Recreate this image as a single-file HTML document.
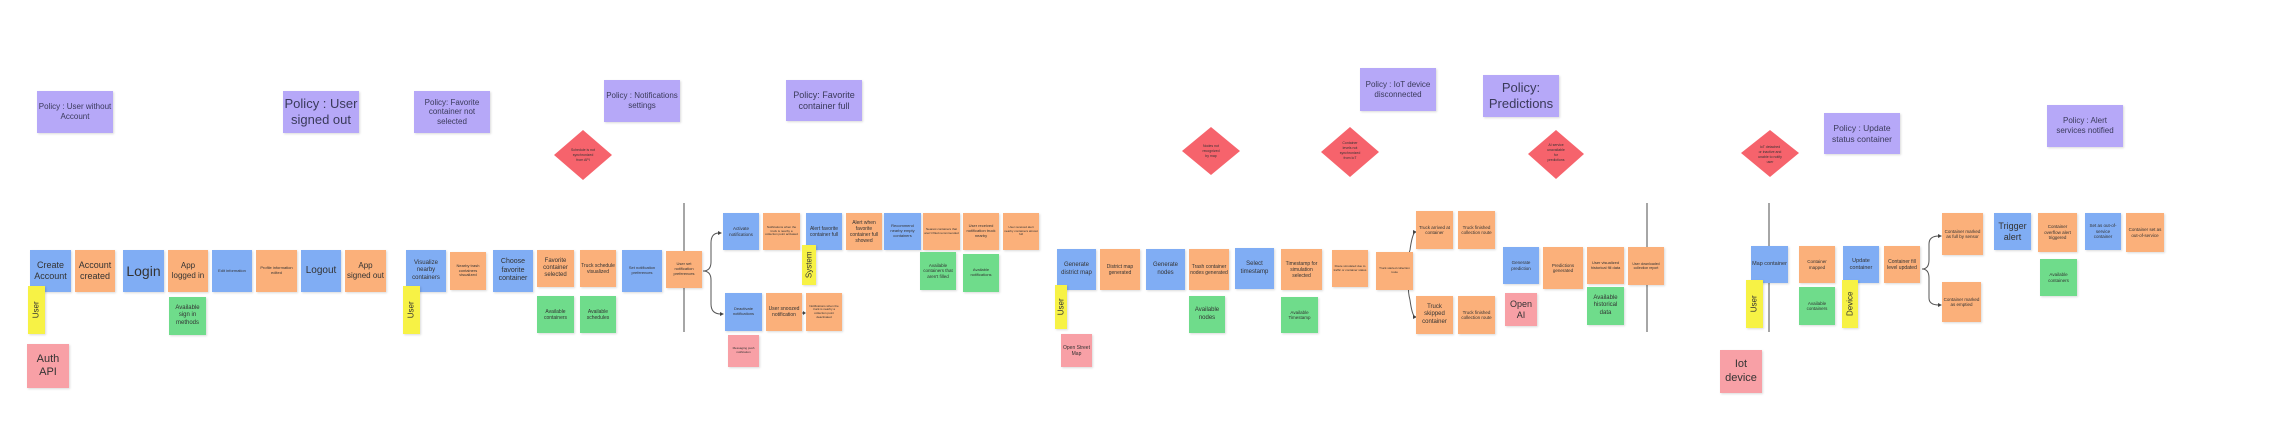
<!DOCTYPE html>
<html><head><meta charset="utf-8"><style>
body{margin:0;width:2291px;height:436px;background:#fff;position:relative;overflow:hidden;font-family:"Liberation Sans",sans-serif}
.n{position:absolute;display:flex;align-items:center;justify-content:center;text-align:center;color:#333;line-height:1.2;box-shadow:1px 1px 2px rgba(0,0,0,.15);box-sizing:border-box;padding:1px;overflow:hidden}
.b{background:#80adf4}.o{background:#fbb07a}.g{background:#6fdc8b}.y{background:#f7f245}.p{background:#b6a8f8;color:#3a3a5a}.r{background:#f8a0a6}
.v span{transform:rotate(-90deg);white-space:nowrap;display:block}
svg{position:absolute;left:0;top:0}
</style></head><body>
<svg width="2291" height="436">
<g fill="#f6636c">
<polygon points="583,130 612,155 583,180 554,155"/>
<polygon points="1211,127 1240,151 1211,175 1182,151"/>
<polygon points="1350,127 1379,152 1350,177 1321,152"/>
<polygon points="1556,130 1584,154 1556,179 1528,154"/>
<polygon points="1770,130 1799,153 1770,177 1741,153"/>
</g>
<g fill="#333" font-size="3.5" text-anchor="middle" font-family="Liberation Sans">
<text x="583" y="151">Schedule is not</text><text x="583" y="156">synchronized</text><text x="583" y="161">from API</text>
<text x="1211" y="147">Nodes not</text><text x="1211" y="152">recognized</text><text x="1211" y="157">by map</text>
<text x="1350" y="144">Container</text><text x="1350" y="149">levels not</text><text x="1350" y="154">synchronized</text><text x="1350" y="159">from IoT</text>
<text x="1556" y="146">AI service</text><text x="1556" y="151">unavailable</text><text x="1556" y="156">for</text><text x="1556" y="161">predictions</text>
<text x="1770" y="148">IoT detached</text><text x="1770" y="153">or inactive and</text><text x="1770" y="158">unable to notify</text><text x="1770" y="163">user</text>
</g>
<g stroke="#777" stroke-width="1.3">
<line x1="684" y1="203" x2="684" y2="332"/><line x1="1647" y1="203" x2="1647" y2="332"/><line x1="1769" y1="203" x2="1769" y2="332"/>
</g>
<g stroke="#555" fill="none" stroke-width="1">
<path d="M703,271 Q711,271 711,262 L711,243 Q711,233 719,233"/><path d="M703,271 Q711,271 711,280 L711,304 Q711,314 721,314"/>
<path d="M1412,272 Q1406,262 1410,250 Q1412,235 1415,232"/><path d="M1412,272 Q1406,285 1410,300 Q1412,315 1415,317"/>
<path d="M1922,269 Q1929,269 1929,260 L1929,244 Q1929,236 1939,236"/><path d="M1922,269 Q1929,269 1929,278 L1929,298 Q1929,305 1939,305"/>
<line x1="802" y1="313" x2="805" y2="313"/>
</g>
<g fill="#444">
<polygon points="722,233 718,231 718,235"/><polygon points="724,314 720,312 720,316"/>
<polygon points="1417,232 1413,230 1413,234"/><polygon points="1417,317 1413,315 1413,319"/>
<polygon points="1942,236 1938,234 1938,238"/><polygon points="1942,305 1938,303 1938,307"/>
<polygon points="806,313 803,311 803,315"/>
</g>
</svg>

<div class="n p" style="left:37px;top:91px;width:76px;height:42px;font-size:8px">Policy : User without Account</div>
<div class="n p" style="left:283px;top:91px;width:76px;height:42px;font-size:13px">Policy : User signed out</div>
<div class="n p" style="left:414px;top:91px;width:76px;height:42px;font-size:8px">Policy: Favorite container not selected</div>
<div class="n p" style="left:604px;top:80px;width:76px;height:42px;font-size:8px">Policy : Notifications settings</div>
<div class="n p" style="left:786px;top:80px;width:76px;height:41px;font-size:9px">Policy: Favorite container full</div>
<div class="n p" style="left:1360px;top:68px;width:76px;height:43px;font-size:8px">Policy : IoT device disconnected</div>
<div class="n p" style="left:1483px;top:75px;width:76px;height:42px;font-size:13px">Policy: Predictions</div>
<div class="n p" style="left:1824px;top:113px;width:76px;height:41px;font-size:8.5px">Policy : Update status container</div>
<div class="n p" style="left:2047px;top:105px;width:76px;height:42px;font-size:8px">Policy : Alert services notified</div>

<div class="n b" style="left:30px;top:250px;width:41px;height:42px;font-size:9px">Create Account</div>
<div class="n o" style="left:75px;top:250px;width:40px;height:42px;font-size:9px">Account created</div>
<div class="n b" style="left:123px;top:250px;width:41px;height:42px;font-size:14px">Login</div>
<div class="n o" style="left:168px;top:250px;width:40px;height:42px;font-size:8px">App logged in</div>
<div class="n b" style="left:212px;top:250px;width:40px;height:42px;font-size:4px">Edit information</div>
<div class="n o" style="left:256px;top:250px;width:41px;height:42px;font-size:4px">Profile information edited</div>
<div class="n b" style="left:301px;top:250px;width:40px;height:42px;font-size:10px">Logout</div>
<div class="n o" style="left:345px;top:250px;width:41px;height:42px;font-size:8px">App signed out</div>
<div class="n y v" style="left:28px;top:286px;width:17px;height:48px;font-size:8px"><span>User</span></div>
<div class="n g" style="left:169px;top:297px;width:37px;height:38px;font-size:6px">Available sign in methods</div>
<div class="n r" style="left:27px;top:344px;width:42px;height:44px;font-size:11px">Auth API</div>

<div class="n b" style="left:406px;top:250px;width:40px;height:42px;font-size:6px">Visualize nearby containers</div>
<div class="n y v" style="left:403px;top:286px;width:17px;height:48px;font-size:8px"><span>User</span></div>
<div class="n o" style="left:450px;top:252px;width:36px;height:38px;font-size:4px">Nearby trash containers visualized</div>
<div class="n b" style="left:493px;top:250px;width:40px;height:42px;font-size:7px">Choose favorite container</div>
<div class="n o" style="left:537px;top:250px;width:37px;height:37px;font-size:6px">Favorite container selected</div>
<div class="n o" style="left:580px;top:250px;width:36px;height:37px;font-size:5px">Truck schedule visualized</div>
<div class="n b" style="left:622px;top:250px;width:40px;height:42px;font-size:4px">Set notification preferences</div>
<div class="n o" style="left:666px;top:251px;width:36px;height:37px;font-size:4px">User set notification preferences</div>
<div class="n g" style="left:537px;top:296px;width:37px;height:37px;font-size:5px">Available containers</div>
<div class="n g" style="left:580px;top:296px;width:36px;height:37px;font-size:5px">Available schedules</div>

<div class="n b" style="left:723px;top:213px;width:36px;height:37px;font-size:4.5px">Activate notifications</div>
<div class="n o" style="left:763px;top:213px;width:37px;height:37px;font-size:3px">Notifications when the truck is nearby a collection point activated</div>
<div class="n b" style="left:806px;top:213px;width:36px;height:37px;font-size:5px">Alert favorite container full</div>
<div class="n y v" style="left:802px;top:245px;width:14px;height:40px;font-size:8px"><span>System</span></div>
<div class="n b" style="left:725px;top:293px;width:37px;height:38px;font-size:4px">Deactivate notifications</div>
<div class="n o" style="left:766px;top:293px;width:36px;height:38px;font-size:5px">User snoozed notification</div>
<div class="n o" style="left:806px;top:293px;width:36px;height:38px;font-size:3px">Notifications when the truck is nearby a collection point deactivated</div>
<div class="n r" style="left:728px;top:335px;width:31px;height:32px;font-size:3px">Messaging push notification</div>

<div class="n o" style="left:846px;top:213px;width:36px;height:37px;font-size:5px">Alert when favorite container full showed</div>
<div class="n b" style="left:884px;top:213px;width:37px;height:37px;font-size:4px">Recommend nearby empty containers</div>
<div class="n o" style="left:923px;top:213px;width:37px;height:37px;font-size:3px">Nearest containers that aren't filled recommended</div>
<div class="n o" style="left:963px;top:213px;width:36px;height:37px;font-size:4px">User received notification truck nearby</div>
<div class="n o" style="left:1003px;top:213px;width:36px;height:37px;font-size:3px">User received alert nearby containers almost full</div>
<div class="n g" style="left:920px;top:252px;width:36px;height:38px;font-size:4.5px">Available containers that aren't filled</div>
<div class="n g" style="left:963px;top:254px;width:36px;height:38px;font-size:4px">Available notifications</div>

<div class="n b" style="left:1057px;top:249px;width:39px;height:41px;font-size:6px">Generate district map</div>
<div class="n y v" style="left:1055px;top:285px;width:12px;height:44px;font-size:8px"><span>User</span></div>
<div class="n r" style="left:1061px;top:334px;width:31px;height:33px;font-size:5px">Open Street Map</div>
<div class="n o" style="left:1100px;top:249px;width:40px;height:41px;font-size:5px">District map generated</div>
<div class="n b" style="left:1146px;top:249px;width:39px;height:41px;font-size:6px">Generate nodes</div>
<div class="n o" style="left:1189px;top:249px;width:40px;height:41px;font-size:5px">Trash container nodes generated</div>
<div class="n g" style="left:1189px;top:296px;width:36px;height:37px;font-size:6px">Available nodes</div>
<div class="n b" style="left:1235px;top:248px;width:39px;height:41px;font-size:6px">Select timestamp</div>
<div class="n o" style="left:1281px;top:249px;width:41px;height:41px;font-size:5px">Timestamp for simulation selected</div>
<div class="n g" style="left:1281px;top:297px;width:37px;height:36px;font-size:4.5px">Available Timestamp</div>
<div class="n o" style="left:1332px;top:250px;width:36px;height:37px;font-size:3px">Route simulated due to traffic or container status</div>
<div class="n o" style="left:1376px;top:252px;width:37px;height:38px;font-size:3px">Truck started collection route</div>
<div class="n o" style="left:1416px;top:211px;width:37px;height:38px;font-size:4.5px">Truck arrived at container</div>
<div class="n o" style="left:1458px;top:211px;width:37px;height:38px;font-size:4.5px">Truck finished collection route</div>
<div class="n o" style="left:1416px;top:296px;width:37px;height:38px;font-size:6px">Truck skipped container</div>
<div class="n o" style="left:1458px;top:296px;width:37px;height:38px;font-size:4.5px">Truck finished collection route</div>
<div class="n b" style="left:1503px;top:247px;width:36px;height:37px;font-size:4.5px">Generate prediction</div>
<div class="n r" style="left:1505px;top:293px;width:32px;height:33px;font-size:9px">Open AI</div>
<div class="n o" style="left:1543px;top:247px;width:40px;height:42px;font-size:4.5px">Predictions generated</div>
<div class="n o" style="left:1587px;top:247px;width:37px;height:37px;font-size:4px">User visualized historical fill data</div>
<div class="n g" style="left:1587px;top:287px;width:37px;height:38px;font-size:6px">Available historical data</div>
<div class="n o" style="left:1628px;top:247px;width:36px;height:38px;font-size:3.5px">User downloaded collection report</div>

<div class="n b" style="left:1751px;top:246px;width:37px;height:37px;font-size:5.5px">Map container</div>
<div class="n y v" style="left:1746px;top:280px;width:17px;height:48px;font-size:8px"><span>User</span></div>
<div class="n r" style="left:1720px;top:350px;width:42px;height:43px;font-size:11px">Iot device</div>
<div class="n o" style="left:1799px;top:246px;width:36px;height:37px;font-size:4.5px">Container mapped</div>
<div class="n g" style="left:1799px;top:287px;width:36px;height:38px;font-size:4.5px">Available containers</div>
<div class="n b" style="left:1843px;top:246px;width:36px;height:37px;font-size:5.5px">Update container</div>
<div class="n y v" style="left:1842px;top:280px;width:16px;height:48px;font-size:8px"><span>Device</span></div>
<div class="n o" style="left:1884px;top:246px;width:36px;height:37px;font-size:5px">Container fill level updated</div>
<div class="n o" style="left:1942px;top:213px;width:41px;height:42px;font-size:4.5px">Container marked as full by sensor</div>
<div class="n o" style="left:1942px;top:282px;width:39px;height:40px;font-size:4.5px">Container marked as emptied</div>
<div class="n b" style="left:1994px;top:213px;width:37px;height:37px;font-size:9px">Trigger alert</div>
<div class="n o" style="left:2038px;top:213px;width:39px;height:39px;font-size:4.5px">Container overflow alert triggered</div>
<div class="n g" style="left:2040px;top:259px;width:37px;height:37px;font-size:4.5px">Available containers</div>
<div class="n b" style="left:2085px;top:213px;width:36px;height:37px;font-size:4.5px">Set as out-of-service container</div>
<div class="n o" style="left:2126px;top:213px;width:38px;height:39px;font-size:4.5px">Container set as out-of-service</div>
</body></html>
